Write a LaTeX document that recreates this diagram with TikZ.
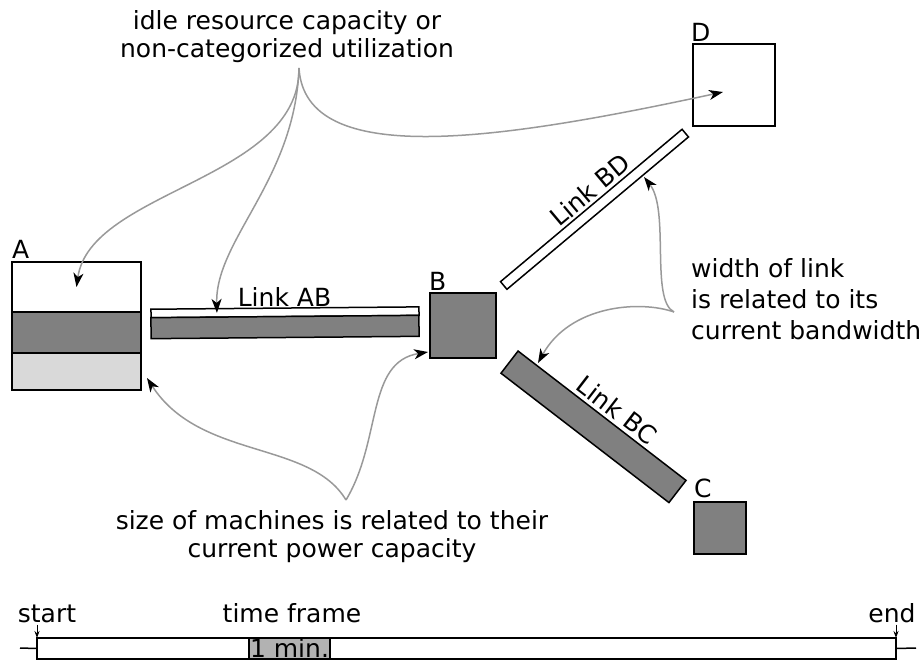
\documentclass[tikz,border=0pt]{standalone}
\usepackage{fontspec}
\setmainfont{DejaVu Sans}
\usetikzlibrary{positioning, calc, arrows.meta}

\begin{document}
\begin{tikzpicture}[x=1pt, y=-1pt,
        font=\fontsize{25}{28}\selectfont,
        box/.style={draw, line width=1.5pt, inner sep=0pt, outer sep=0pt},
        busy/.style={box, fill=gray},
        idle/.style={box, fill=white},
        other/.style={box, fill=gray!30},
        tag/.style={anchor=base west, inner sep=0pt},
        pointer/.style={draw=black!40, line width=1.5pt, -{Stealth[color=black, length=14pt, width=10pt, inset=4pt]}},
        stamp/.style={draw, line width=1pt, -{Stealth[length=7pt, width=5pt]}}]
    \useasboundingbox (0,0) rectangle (924,662);
    % machine A
    \node[idle, minimum width=129pt, minimum height=50pt, anchor=north west] (Aidle) at (12,262) {};
    \node[busy, minimum width=129pt, minimum height=41pt, below=0pt of Aidle] (Aused) {};
    \node[other, minimum width=129pt, minimum height=37pt, below=0pt of Aused] (Aother) {};
    \node[tag] at (12,258) {A};
    % machines B, C, D
    \node[busy, minimum width=66pt, minimum height=65pt, anchor=north west] (B) at (430,293) {};
    \node[busy, minimum size=52pt, anchor=north west] (C) at (694,502) {};
    \node[idle, minimum size=82pt, anchor=north west] (D) at (693,44) {};
    \node[tag] at (429,290) {B};
    \node[tag] at (694,497) {C};
    \node[tag] at (691,41) {D};
    % links
    \node[idle, minimum width=268pt, minimum height=8.5pt, rotate=0.5] (ABidle) at (285,312.3) {};
    \node[busy, minimum width=268pt, minimum height=21pt, rotate=0.5] (ABused) at (285,327) {};
    \node[anchor=base, inner sep=0pt] at (284.5,306) {Link AB};
    \node[idle, minimum width=237pt, minimum height=10pt, rotate=40] (BD) at (594.5,209.3) {};
    \node[rotate=40, inner sep=0pt] at (590,190) {Link BD};
    \node[busy, minimum width=212pt, minimum height=28pt, rotate=-37.6] (BC) at (593.5,426.8) {};
    \node[rotate=-37.6, inner sep=0pt] at (617,410) {Link BC};
    % notes
    \node[align=center, anchor=north, inner sep=0pt] (idlenote) at (287,10)
        {idle resource capacity or\\non-categorized utilization};
    \node[align=left, anchor=north west, inner sep=0pt, font=\fontsize{25}{31}\selectfont] (widthnote) at (691,258)
        {width of link\\is related to its\\current bandwidth};
    \node[align=center, anchor=north, inner sep=0pt] (sizenote) at (332,510)
        {size of machines is related to their\\current power capacity};
    % arrows
    \coordinate (idlecusp) at (299,68);
    \coordinate (sizecusp) at (346,500);
    \coordinate (widthcusp) at (674,312);
    \coordinate (ABtip) at ($(ABidle.west)!0.246!(ABidle.east)$);
    \coordinate (Dtip) at (723,92);
    \coordinate (Atip) at (147,378);
    \coordinate (Btip) at (428,352);
    \coordinate (BDtip) at (644,177);
    \coordinate (BCtip) at (538,363);
    \draw[pointer] (idlecusp) .. controls (300,180) and (90,190) .. (Aidle.center);
    \draw[pointer] (idlecusp) .. controls (295,180) and (215,240) .. (ABtip);
    \draw[pointer] (idlecusp) .. controls (305,170) and (500,140) .. (Dtip);
    \draw[pointer] (sizecusp) .. controls (310,440) and (200,460) .. (Atip);
    \draw[pointer] (sizecusp) .. controls (382,440) and (366,362) .. (Btip);
    \draw[pointer] (widthcusp) .. controls (650,300) and (670,210) .. (BDtip);
    \draw[pointer] (widthcusp) .. controls (640,300) and (570,305) .. (BCtip);
    % time line
    \node[box, minimum width=859pt, minimum height=21pt, anchor=north west] (frame) at (37,638) {};
    \node[box, fill=gray!60, minimum width=81pt, minimum height=21pt, text height=17pt, text depth=0pt,
        anchor=north west] (slot) at (249,638) {1 min.};
    \coordinate (tlstart) at (20,648);
    \coordinate (tlend) at (916,648);
    \draw[line width=1.5pt] (tlstart) -- (frame.west) (frame.east) -- (tlend);
    \node[anchor=base, inner sep=2pt] (startlabel) at (47,622) {start};
    \node[anchor=base, inner sep=2pt] (framelabel) at (292,622) {time frame};
    \node[anchor=base, inner sep=2pt] (endlabel) at (892,622) {end};
    \draw[stamp] ([xshift=-10pt]startlabel.south) -- (frame.north west);
    \draw[stamp] ([xshift=4pt]endlabel.south) -- (frame.north east);
\end{tikzpicture}
\end{document}
